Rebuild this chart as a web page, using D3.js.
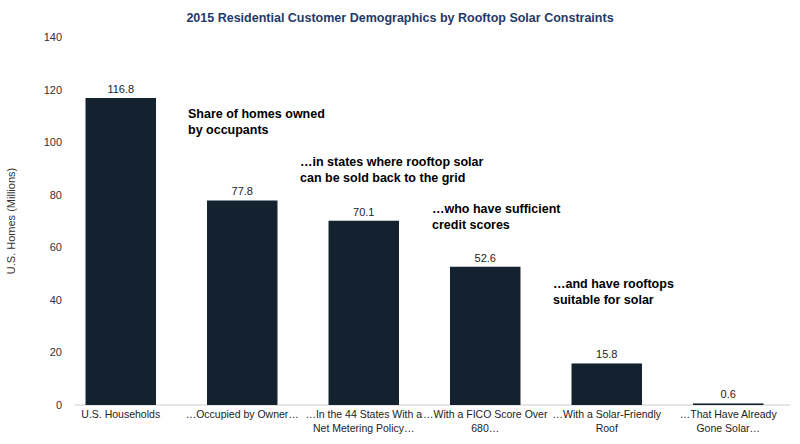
<!DOCTYPE html>
<html><head><meta charset="utf-8">
<script src="https://cdnjs.cloudflare.com/ajax/libs/d3/7.8.5/d3.min.js"></script>
<style>body{margin:0;background:#fff;font-family:"Liberation Sans",Arial,sans-serif}</style>
</head><body><svg id="c" width="800" height="444"></svg>
<script>
var categories = [["U.S. Households"],["…Occupied by Owner…"],["…In the 44 States With a","Net Metering Policy…"],["…With a FICO Score Over","680…"],["…With a Solar-Friendly","Roof"],["…That Have Already","Gone Solar…"]];
var values = [116.8, 77.8, 70.1, 52.6, 15.8, 0.6];
var yTicks = [0, 20, 40, 60, 80, 100, 120, 140];
var notes = [
  {lines:["Share of homes owned","by occupants"], x:188, v:109},
  {lines:["…in states where rooftop solar","can be sold back to the grid"], x:300, v:91},
  {lines:["…who have sufficient","credit scores"], x:432, v:73},
  {lines:["…and have rooftops","suitable for solar"], x:553, v:44.5}
];

var svg = d3.select("#c");
var x = d3.scaleBand().domain(d3.range(values.length)).range([60, 789]).paddingInner(0.42).paddingOuter(0.21);
var y = d3.scaleLinear().domain([0, 140]).range([405, 37]);

svg.append("text").attr("x", 400).attr("y", 22).attr("text-anchor", "middle")
  .attr("font-size", 12.5).attr("font-weight", "bold").attr("fill", "#1f3a6b")
  .text("2015 Residential Customer Demographics by Rooftop Solar Constraints");

svg.append("text").attr("transform", "translate(15,221) rotate(-90)").attr("text-anchor", "middle")
  .attr("font-size", 11).attr("fill", "#333").text("U.S. Homes (Millions)");

svg.selectAll(".yt").data(yTicks).enter().append("text")
  .attr("x", 62).attr("y", d => y(d) + 4).attr("text-anchor", "end")
  .attr("font-size", 11).attr("fill", "#333").text(d => d);

svg.append("line").attr("x1", 75).attr("x2", 790).attr("y1", y(0)).attr("y2", y(0)).attr("stroke", "#ccc");

svg.selectAll(".bar").data(values).enter().append("rect")
  .attr("x", (d, i) => x(i)).attr("width", x.bandwidth())
  .attr("y", d => y(d)).attr("height", d => y(0) - y(d)).attr("fill", "#14222f");

svg.selectAll(".val").data(values).enter().append("text")
  .attr("x", (d, i) => x(i) + x.bandwidth() / 2).attr("y", d => y(d) - 5)
  .attr("text-anchor", "middle").attr("font-size", 11).attr("fill", "#222").text(d => d.toFixed(1));

categories.forEach(function(lines, i) {
  var t = svg.append("text").attr("x", x(i) + x.bandwidth() / 2).attr("y", 418)
    .attr("text-anchor", "middle").attr("font-size", 10.5).attr("fill", "#222");
  lines.forEach((l, j) => t.append("tspan").attr("x", x(i) + x.bandwidth() / 2).attr("dy", j ? 14 : 0).text(l));
});

notes.forEach(function(n) {
  var t = svg.append("text").attr("x", n.x).attr("y", y(n.v)).attr("font-size", 12.5)
    .attr("font-weight", "bold").attr("fill", "#000");
  n.lines.forEach((l, j) => t.append("tspan").attr("x", n.x).attr("dy", j ? 16 : 0).text(l));
});
</script></body></html>
